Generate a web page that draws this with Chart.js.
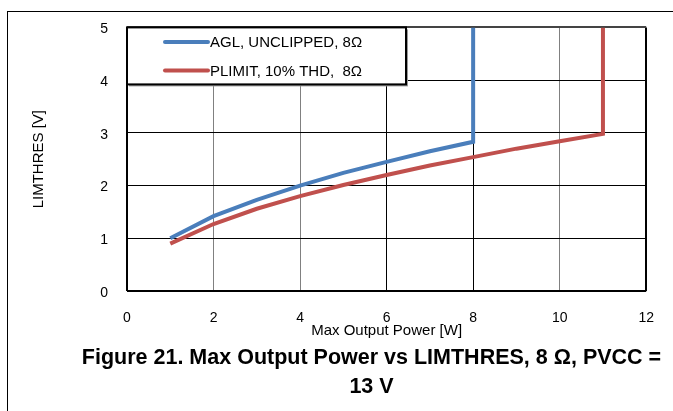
<!DOCTYPE html>
<html>
<head>
<meta charset="utf-8">
<script src="https://cdn.jsdelivr.net/npm/chart.js@4.4.1/dist/chart.umd.min.js"></script>
<style>
  html, body { margin: 0; padding: 0; background: #fff; overflow: hidden; }
  body { width: 673px; height: 411px; position: relative; font-family: "Liberation Sans", Arial, sans-serif; }
  #frame { position: absolute; left: 7px; top: 11px; width: 700px; height: 420px;
           border-top: 1px solid #000; border-left: 1px solid #000; }
  #chart { position: absolute; left: 0; top: 0; }
  #caption { position: absolute; left: 71px; width: 601px; top: 343px; text-align: center;
             font-weight: bold; font-size: 21.5px; line-height: 29px; white-space: nowrap; color: #000; }
</style>
</head>
<body>
<div id="frame"></div>
<canvas id="chart" width="673" height="345"></canvas>
<div id="caption">Figure 21. Max Output Power vs LIMTHRES, 8 Ω, PVCC =<br>13 V</div>
<script>
// Data
const seriesNames = ['AGL, UNCLIPPED, 8Ω', 'PLIMIT, 10% THD,  8Ω'];
const aglPower = [1, 2, 3, 4, 5, 6, 7, 8, 8];
const aglThres = [1.0, 1.42, 1.73, 2.0, 2.24, 2.45, 2.65, 2.83, 5];
const plimitPower = [1, 2, 3, 4, 5, 6, 7, 8, 9, 10, 11, 11];
const plimitThres = [0.9, 1.27, 1.56, 1.8, 2.01, 2.2, 2.38, 2.54, 2.7, 2.84, 2.98, 5];
const xTicks = [0, 2, 4, 6, 8, 10, 12];
const yTicks = [0, 1, 2, 3, 4, 5];

function toPoints(xs, ys) {
    return xs.map((x, i) => ({ x: x, y: ys[i] }));
}

Chart.defaults.font.family = '"Liberation Sans", Arial, sans-serif';
Chart.defaults.color = '#000';

// Boxed legend drawn inside the top-left of the plot
const boxLegend = {
    id: 'boxLegend',
    afterDatasetsDraw(chart) {
        const ctx = chart.ctx;
        const a = chart.chartArea;
        const x0 = a.left, y0 = a.top, w = 279, h = 57;
        ctx.save();
        ctx.fillStyle = '#999';
        ctx.fillRect(x0 + 2, y0 + 2, w, h);
        ctx.fillStyle = '#fff';
        ctx.fillRect(x0, y0, w, h);
        ctx.strokeStyle = '#000';
        ctx.lineWidth = 2;
        ctx.strokeRect(x0, y0, w, h);
        ctx.font = '15px "Liberation Sans", Arial, sans-serif';
        ctx.textBaseline = 'middle';
        ctx.fillStyle = '#000';
        chart.data.datasets.forEach((ds, i) => {
            const y = y0 + 14.5 + i * 28.5;
            ctx.strokeStyle = ds.borderColor;
            ctx.lineWidth = 4;
            ctx.lineCap = 'round';
            ctx.beginPath();
            ctx.moveTo(x0 + 38, y);
            ctx.lineTo(x0 + 81, y);
            ctx.stroke();
            ctx.fillText(ds.label, x0 + 83, y + 1);
        });
        ctx.restore();
    }
};

const gridColorX = { 0: '#000', 2: '#808080', 4: '#808080', 6: '#000', 8: '#000', 10: '#808080', 12: '#000' };

new Chart(document.getElementById('chart').getContext('2d'), {
    type: 'line',
    data: {
        datasets: [{
            label: seriesNames[0],
            data: toPoints(aglPower, aglThres),
            borderColor: '#4A7EBB',
            borderWidth: 4,
            pointRadius: 0,
            tension: 0,
            fill: false
        }, {
            label: seriesNames[1],
            data: toPoints(plimitPower, plimitThres),
            borderColor: '#C0504D',
            borderWidth: 4,
            pointRadius: 0,
            tension: 0,
            fill: false
        }]
    },
    options: {
        responsive: false,
        animation: false,
        layout: { padding: { top: 26, right: 25, left: 0, bottom: 0 } },
        plugins: {
            legend: { display: false },
            tooltip: { enabled: false }
        },
        scales: {
            x: {
                type: 'linear',
                min: 0,
                max: 12,
                afterBuildTicks: s => { s.ticks = xTicks.map(v => ({ value: v })); },
                afterFit: s => { s.height = 54; },
                ticks: { font: { size: 14 }, padding: 19, color: '#000' },
                grid: {
                    drawTicks: false,
                    color: c => gridColorX[c.tick.value] || '#000',
                    lineWidth: c => (c.tick.value === 0 || c.tick.value === 12) ? 2 : 1
                },
                border: { display: false },
                title: { display: true, text: 'Max Output Power [W]', font: { size: 15 }, padding: { top: 0, bottom: 5 } }
            },
            y: {
                min: 0,
                max: 5,
                afterBuildTicks: s => { s.ticks = yTicks.map(v => ({ value: v })); },
                afterFit: s => { s.width = 127; },
                ticks: { font: { size: 14 }, padding: 19, color: '#000', labelOffset: 2 },
                grid: {
                    drawTicks: false,
                    color: c => c.tick.value === 5 ? '#444' : '#000',
                    lineWidth: c => (c.tick.value === 0 || c.tick.value === 5) ? 2 : 1
                },
                border: { display: false },
                title: { display: true, text: 'LIMTHRES [V]', font: { size: 15 }, padding: { top: 30, bottom: 0 } }
            }
        }
    },
    plugins: [boxLegend]
});
</script>
</body>
</html>
